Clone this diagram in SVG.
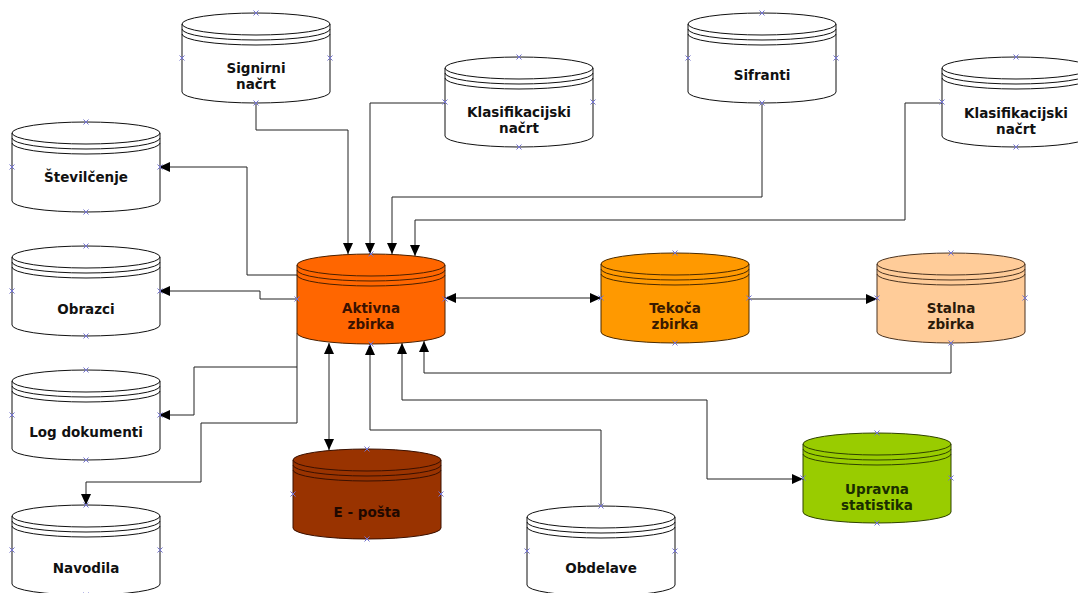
<svg xmlns="http://www.w3.org/2000/svg" xmlns:xlink="http://www.w3.org/1999/xlink" width="1078" height="593" viewBox="0 0 1078 593">
  <style>
    .wire { fill: none; stroke: #222222; stroke-width: 1; }
    .one { marker-end: url(#tip); }
    .two { marker-start: url(#tip); marker-end: url(#tip); }
    .plain { fill: #ffffff; stroke: #111111; }
    .act { fill: #ff6600; stroke: #4a2000; }
    .cur { fill: #ff9900; stroke: #4a2a00; }
    .perm { fill: #ffcc99; stroke: #4a3320; }
    .mail { fill: #993300; stroke: #3a1000; }
    .stat { fill: #99cc00; stroke: #2f4200; }
    .lbl { font-family: "DejaVu Sans", Verdana, sans-serif; font-weight: bold; font-size: 13.5px; text-anchor: middle; fill: #111111; }
    .lbl-act { fill: #3a1200; }
    .lbl-cur { fill: #3a1a00; }
    .lbl-perm { fill: #2b1a0a; }
    .lbl-mail { fill: #1f0800; }
    .lbl-stat { fill: #1a2e00; }
  </style>
  <defs>
    <marker id="tip" viewBox="0 0 11 10" refX="11" refY="5" markerWidth="11" markerHeight="10" markerUnits="userSpaceOnUse" orient="auto-start-reverse">
      <path d="M0,0 L11,5 L0,10 Z" fill="#000000"/>
    </marker>
    <!-- database cylinder, 148 x 90, origin at top-left -->
    <g id="cyl">
      <path d="M0,11 A74,11 0 0 1 148,11 V79 A74,11 0 0 1 0,79 Z"/>
      <path d="M0,11 A74,11 0 0 0 148,11 M0,16 A74,11 0 0 0 148,16 M0,21 A74,11 0 0 0 148,21" fill="none"/>
      <path d="M71.5,-2.5 L76.5,2.5 M71.5,2.5 L76.5,-2.5 M-2.5,42.5 L2.5,47.5 M-2.5,47.5 L2.5,42.5 M145.5,42.5 L150.5,47.5 M145.5,47.5 L150.5,42.5 M71.5,87.5 L76.5,92.5 M71.5,92.5 L76.5,87.5" fill="none" stroke="#7373d0" stroke-width="1"/>
    </g>
  </defs>

  <rect x="0" y="0" width="1078" height="593" fill="#ffffff"/>

  <g id="connectors">
    <path class="wire one" d="M256,101 V130 H348 V254"/>
    <path class="wire one" d="M445,103 H370 V254"/>
    <path class="wire one" d="M762,103 V197 H392 V254"/>
    <path class="wire one" d="M942,103 H905 V220 H415 V256"/>
    <path class="wire one" d="M297,275 H247 V167 H159"/>
    <path class="wire one" d="M297,299 H260 V291 H159"/>
    <path class="wire one" d="M297,333 V367 H194 V415 H159"/>
    <path class="wire one" d="M297,367 V423 H201 V482 H86 V505"/>
    <path class="wire two" d="M329,343 V450" stroke-width="1.5"/>
    <path class="wire one" d="M601,506 V430 H370 V344"/>
    <path class="wire two" d="M803,479 H707 V400 H402 V343"/>
    <path class="wire one" d="M951,344 V373 H424 V341"/>
    <path class="wire two" d="M445,298 H601"/>
    <path class="wire one" d="M749,299 H877"/>
  </g>

  <g id="signirni-nacrt">
    <use xlink:href="#cyl" class="plain" transform="translate(182,13)"/>
    <text class="lbl" x="256" y="73">Signirni</text>
    <text class="lbl" x="256" y="89">načrt</text>
  </g>
  <g id="klasifikacijski-nacrt-1">
    <use xlink:href="#cyl" class="plain" transform="translate(445,57)"/>
    <text class="lbl" x="519" y="117">Klasifikacijski</text>
    <text class="lbl" x="519" y="133">načrt</text>
  </g>
  <g id="sifranti">
    <use xlink:href="#cyl" class="plain" transform="translate(688,13)"/>
    <text class="lbl" x="762" y="80">Sifranti</text>
  </g>
  <g id="klasifikacijski-nacrt-2">
    <use xlink:href="#cyl" class="plain" transform="translate(942,57)"/>
    <text class="lbl" x="1016" y="118">Klasifikacijski</text>
    <text class="lbl" x="1016" y="134">načrt</text>
  </g>
  <g id="stevilcenje">
    <use xlink:href="#cyl" class="plain" transform="translate(12,122)"/>
    <text class="lbl" x="86" y="182">Številčenje</text>
  </g>
  <g id="obrazci">
    <use xlink:href="#cyl" class="plain" transform="translate(12,246)"/>
    <text class="lbl" x="86" y="314">Obrazci</text>
  </g>
  <g id="log-dokumenti">
    <use xlink:href="#cyl" class="plain" transform="translate(12,370)"/>
    <text class="lbl" x="86" y="437">Log dokumenti</text>
  </g>
  <g id="navodila">
    <use xlink:href="#cyl" class="plain" transform="translate(12,505)"/>
    <text class="lbl" x="86" y="573">Navodila</text>
  </g>
  <g id="aktivna-zbirka">
    <use xlink:href="#cyl" class="act" transform="translate(297,254)"/>
    <text class="lbl lbl-act" x="371" y="313">Aktivna</text>
    <text class="lbl lbl-act" x="371" y="329">zbirka</text>
  </g>
  <g id="tekoca-zbirka">
    <use xlink:href="#cyl" class="cur" transform="translate(601,253)"/>
    <text class="lbl lbl-cur" x="675" y="313">Tekoča</text>
    <text class="lbl lbl-cur" x="675" y="329">zbirka</text>
  </g>
  <g id="stalna-zbirka">
    <use xlink:href="#cyl" class="perm" transform="translate(877,253)"/>
    <text class="lbl lbl-perm" x="951" y="313">Stalna</text>
    <text class="lbl lbl-perm" x="951" y="329">zbirka</text>
  </g>
  <g id="e-posta">
    <use xlink:href="#cyl" class="mail" transform="translate(293,449)"/>
    <text class="lbl lbl-mail" x="367" y="517">E - pošta</text>
  </g>
  <g id="obdelave">
    <use xlink:href="#cyl" class="plain" transform="translate(527,506)"/>
    <text class="lbl" x="601" y="573">Obdelave</text>
  </g>
  <g id="upravna-statistika">
    <use xlink:href="#cyl" class="stat" transform="translate(803,433)"/>
    <text class="lbl lbl-stat" x="877" y="494">Upravna</text>
    <text class="lbl lbl-stat" x="877" y="510">statistika</text>
  </g>
</svg>
